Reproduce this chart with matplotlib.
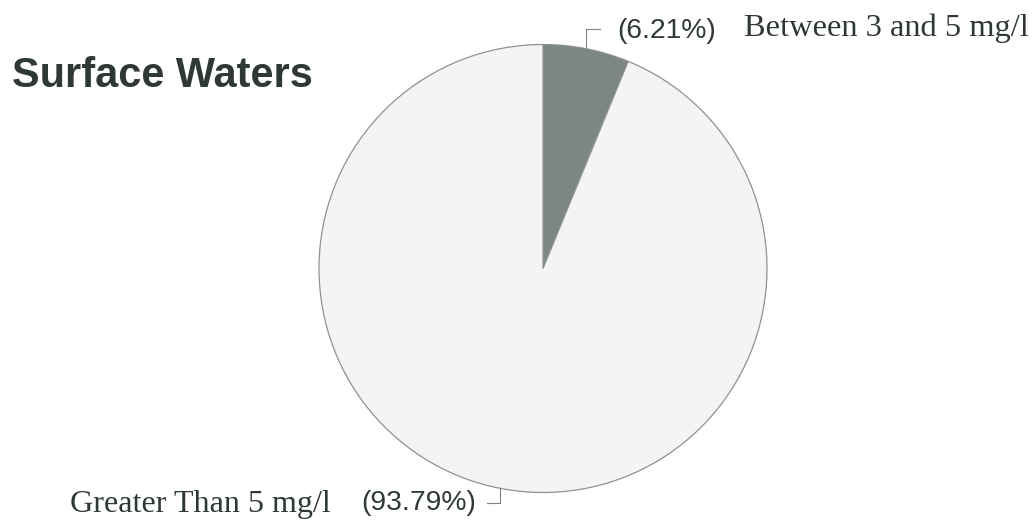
import matplotlib
matplotlib.use("Agg")
import matplotlib.pyplot as plt
import numpy as np

# Share of monitored surface waters by dissolved-oxygen range
categories = ["Between 3 and 5 mg/l", "Greater Than 5 mg/l"]
shares = [6.21, 93.79]
pct_labels = ["(6.21%)", "(93.79%)"]
title = "Surface Waters"

W, H = 1036, 522
DPI = 100
fig = plt.figure(figsize=(W / DPI, H / DPI), dpi=DPI)
fig.patch.set_facecolor("white")

TEXT = "#2f3934"


def fx(px):
    return px / W


def fy(py):
    return 1 - py / H


# pie axes: circle centred at (543, 268.5) px with radius 224 px
cx, cy, r = 543, 268.5, 224
ax = fig.add_axes([fx(cx - r), fy(cy + r), 2 * r / W, 2 * r / H])
ax.axis("off")

wedges, _ = ax.pie(
    shares,
    startangle=90,
    counterclock=False,
    colors=["#7c8782", "#f3f4f3"],
    radius=1.0,
    wedgeprops=dict(edgecolor="#8e9390", linewidth=0.9),
)
ax.set_aspect("auto")
ax.set_xlim(-1, 1)
ax.set_ylim(-1, 1)


def anchor(w):
    mid = np.deg2rad((w.theta1 + w.theta2) / 2)
    return np.cos(mid), np.sin(mid)


def to_fig(x, y):
    disp = ax.transData.transform((x, y))
    return fig.transFigure.inverted().transform(disp)


lw = 0.8
lc = "#7d8480"

# leader for the small wedge: up from the rim, then right
a0 = to_fig(*anchor(wedges[0]))
fig.add_artist(plt.Line2D([a0[0], a0[0], fx(600)], [a0[1], fy(29), fy(29)],
                          color=lc, lw=lw, transform=fig.transFigure))
fig.text(fx(617), fy(31), pct_labels[0], ha="left", va="center",
         fontsize=20.3, family="Liberation Sans", color=TEXT)
fig.text(fx(744), fy(36), categories[0], ha="left", va="baseline",
         fontsize=23.4, family="Liberation Serif", color=TEXT)

# leader for the large wedge: down from the rim, then left
a1 = to_fig(*anchor(wedges[1]))
fig.add_artist(plt.Line2D([a1[0], a1[0], fx(487)], [a1[1], fy(503), fy(503)],
                          color=lc, lw=lw, transform=fig.transFigure))
fig.text(fx(476), fy(503), pct_labels[1], ha="right", va="center",
         fontsize=20.3, family="Liberation Sans", color=TEXT)
fig.text(fx(331), fy(512), categories[1], ha="right", va="baseline",
         fontsize=23.1, family="Liberation Serif", color=TEXT)

fig.text(fx(12), fy(87), title, ha="left", va="baseline",
         fontsize=29.9, fontweight="bold", family="Liberation Sans", color=TEXT)

fig.savefig("out.png", dpi=DPI, facecolor="white")
